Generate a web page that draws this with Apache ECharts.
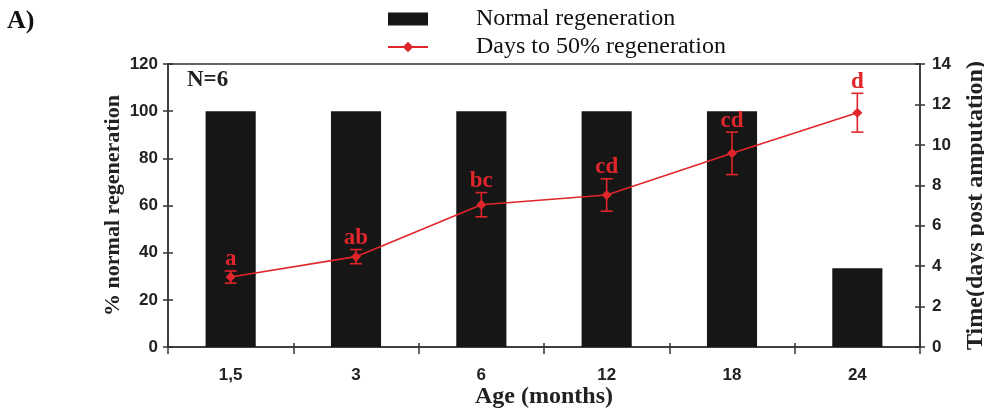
<!DOCTYPE html>
<html>
<head>
<meta charset="utf-8">
<script src="https://cdn.jsdelivr.net/npm/echarts@6/dist/echarts.min.js"></script>
<style>
html,body{margin:0;padding:0;background:#fff;}
#c{width:984px;height:410px;}
</style>
</head>
<body>
<div id="c"></div>
<script>
var categories = ['1,5', '3', '6', '12', '18', '24'];
var normalRegeneration = [100, 100, 100, 100, 100, 33.4];
var daysTo50 = [3.46, 4.47, 7.04, 7.52, 9.58, 11.59];
var daysErr = [0.3, 0.35, 0.6, 0.8, 1.05, 0.96];
var letters = ['a', 'ab', 'bc', 'cd', 'cd', 'd'];
var leftTicks = {min: 0, max: 120, interval: 20};
var rightTicks = {min: 0, max: 14, interval: 2};

var RED = '#e0262b';
var SERIF = '"Liberation Serif","Times New Roman",serif';
var SANS = '"Liberation Sans",Arial,sans-serif';
var AX = '#333';

var errData = categories.map(function (c, i) { return [i, daysTo50[i], daysErr[i]]; });

function innerY(pos, t) {
  return {
    type: 'value', position: pos, min: t.min, max: t.max, interval: t.interval,
    axisLine: {show: false}, axisLabel: {show: false}, splitLine: {show: false},
    axisTick: {show: true, inside: true, length: 5, lineStyle: {color: AX, width: 1.5}}
  };
}

var chart = echarts.init(document.getElementById('c'));
chart.setOption({
  animation: false,
  backgroundColor: '#fff',
  grid: {left: 168, right: 64, top: 64, bottom: 63, containLabel: false, outerBoundsMode: 'none', show: true, borderColor: AX, borderWidth: 1.5, backgroundColor: 'transparent'},
  graphic: [
    {type: 'text', left: 7, top: 8, style: {text: 'A)', font: 'bold 26px ' + SERIF, fill: '#111'}},
    {type: 'text', left: 187, top: 69, style: {text: 'N=6', font: 'bold 23px ' + SERIF, fill: '#222'}}
  ],
  legend: {
    orient: 'vertical',
    left: 382,
    top: 2,
    itemGap: 4,
    itemWidth: 40,
    itemHeight: 13,
    textStyle: {fontFamily: SERIF, fontSize: 24, color: '#111', padding: [0, 0, 0, 43]},
    data: [
      {name: 'Normal regeneration', icon: 'rect'},
      {name: 'Days to 50% regeneration'}
    ]
  },
  xAxis: [
    {
      type: 'category',
      data: categories,
      boundaryGap: true,
      name: 'Age (months)',
      nameLocation: 'middle',
      nameGap: 38,
      nameMoveOverlap: false,
      nameTextStyle: {fontFamily: SERIF, fontWeight: 'bold', fontSize: 24, color: '#222'},
      axisLine: {lineStyle: {color: AX, width: 1.5}},
      axisTick: {show: true, alignWithLabel: false, length: 7, lineStyle: {color: AX, width: 1.5}},
      axisLabel: {fontFamily: SANS, fontWeight: 'bold', fontSize: 17, color: '#222', margin: 20},
      splitLine: {show: false}
    },
    {
      type: 'category',
      data: categories,
      position: 'bottom',
      boundaryGap: true,
      axisLine: {show: false}, axisLabel: {show: false}, splitLine: {show: false},
      axisTick: {show: true, inside: true, length: 4, lineStyle: {color: AX, width: 1.5}}
    }
  ],
  yAxis: [
    {
      type: 'value',
      min: leftTicks.min, max: leftTicks.max, interval: leftTicks.interval,
      name: '% normal regeneration',
      nameLocation: 'middle',
      nameGap: 44,
      nameMoveOverlap: false,
      nameRotate: 90,
      nameTextStyle: {fontFamily: SERIF, fontWeight: 'bold', fontSize: 22, color: '#222'},
      axisLine: {show: true, lineStyle: {color: AX, width: 1.5}},
      axisTick: {show: true, length: 5, lineStyle: {color: AX, width: 1.5}},
      axisLabel: {fontFamily: SANS, fontWeight: 'bold', fontSize: 17, color: '#222', margin: 10},
      splitLine: {show: false}
    },
    {
      type: 'value',
      position: 'right',
      min: rightTicks.min, max: rightTicks.max, interval: rightTicks.interval,
      name: 'Time(days post amputation)',
      nameLocation: 'middle',
      nameGap: 44,
      nameMoveOverlap: false,
      nameRotate: 90,
      nameTextStyle: {fontFamily: SERIF, fontWeight: 'bold', fontSize: 24, color: '#222'},
      axisLine: {show: true, lineStyle: {color: AX, width: 1.5}},
      axisTick: {show: true, length: 5, lineStyle: {color: AX, width: 1.5}},
      axisLabel: {fontFamily: SANS, fontWeight: 'bold', fontSize: 17, color: '#222', margin: 12},
      splitLine: {show: false}
    },
    innerY('left', leftTicks),
    innerY('right', rightTicks)
  ],
  series: [
    {
      name: 'Normal regeneration',
      type: 'bar',
      yAxisIndex: 0,
      data: normalRegeneration,
      barCategoryGap: '60%',
      itemStyle: {color: '#161616'}
    },
    {
      name: 'Days to 50% regeneration',
      type: 'line',
      yAxisIndex: 1,
      data: daysTo50,
      symbol: 'diamond',
      symbolSize: 10,
      lineStyle: {color: RED, width: 1.6},
      itemStyle: {color: RED},
      z: 5
    },
    {
      name: 'err',
      type: 'custom',
      yAxisIndex: 1,
      data: errData,
      z: 6,
      renderItem: function (params, api) {
        var x = api.value(0), m = api.value(1), e = api.value(2);
        var top = api.coord([x, m + e]);
        var bot = api.coord([x, m - e]);
        var w = 6;
        var st = {stroke: RED, lineWidth: 1.6};
        return {
          type: 'group',
          children: [
            {type: 'line', shape: {x1: top[0], y1: top[1], x2: bot[0], y2: bot[1]}, style: st},
            {type: 'line', shape: {x1: top[0] - w, y1: top[1], x2: top[0] + w, y2: top[1]}, style: st},
            {type: 'line', shape: {x1: bot[0] - w, y1: bot[1], x2: bot[0] + w, y2: bot[1]}, style: st},
            {type: 'text', x: top[0], y: top[1] + 0, style: {text: letters[params.dataIndex], font: 'bold 23px ' + SERIF, fill: RED, align: 'center', verticalAlign: 'bottom'}}
          ]
        };
      }
    }
  ]
});
</script>
</body>
</html>
